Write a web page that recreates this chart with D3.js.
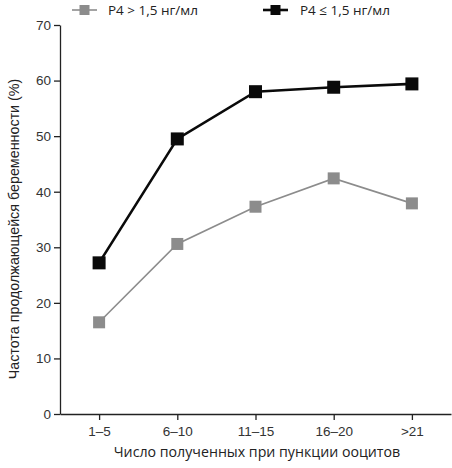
<!DOCTYPE html>
<html><head><meta charset="utf-8">
<script src="https://cdn.jsdelivr.net/npm/d3@7"></script>
<style>body{margin:0;background:#fff}svg{display:block}</style>
</head><body>
<script>
const categories = ["1–5", "6–10", "11–15", "16–20", ">21"];
const highP4 = [16.5, 30.6, 37.3, 42.4, 37.9];
const lowP4 = [27.2, 49.5, 58.0, 58.8, 59.4];
const yTicks = [0, 10, 20, 30, 40, 50, 60, 70];
const seriesNames = ["P4 > 1,5 нг/мл", "P4 ≤ 1,5 нг/мл"];

const W = 452, H = 468;
const svg = d3.select("body").append("svg").attr("width", W).attr("height", H);
const font = "'Liberation Sans', Arial, sans-serif";
const font2 = "'Open Sans', sans-serif";

const x = d3.scalePoint().domain(categories).range([60, 451]).padding(0.5);
const y = d3.scaleLinear().domain([0, 70]).range([414, 25]);

const axisColor = "#222";
// Y axis
const gy = svg.append("g").attr("transform", "translate(60,0)")
  .call(d3.axisLeft(y).tickValues(yTicks).tickSize(6).tickPadding(3).tickSizeOuter(0));
gy.select(".domain").attr("stroke", axisColor).attr("stroke-width", 1.3);
gy.selectAll(".tick line").attr("stroke", axisColor).attr("stroke-width", 1.3);
gy.selectAll(".tick text").attr("font-family", font).attr("font-size", 13.5).attr("fill", "#333");

// X axis
const gx = svg.append("g").attr("transform", "translate(0,414)")
  .call(d3.axisBottom(x).tickSize(6).tickPadding(6).tickSizeOuter(0));
gx.select(".domain").attr("stroke", axisColor).attr("stroke-width", 1.3);
gx.selectAll(".tick line").attr("stroke", axisColor).attr("stroke-width", 1.3);
gx.selectAll(".tick text").attr("font-family", font).attr("font-size", 13.5).attr("fill", "#333");

// Axis titles
svg.append("text").attr("x", 257).attr("y", 457).attr("text-anchor", "middle")
  .attr("font-family", font2).attr("font-size", 14.2).attr("fill", "#222")
  .text("Число полученных при пункции ооцитов");
svg.append("text").attr("transform", "translate(19,229) rotate(-90)").attr("text-anchor", "middle")
  .attr("font-family", font).attr("font-size", 14.3).attr("fill", "#222")
  .text("Частота продолжающейся беременности (%)");

const line = d3.line().x((d, i) => x(categories[i])).y(d => y(d));
const series = [
  {vals: highP4, color: "#8c8c8c", lw: 1.6, ms: 12},
  {vals: lowP4, color: "#0a0a0a", lw: 2.6, ms: 13}
];
series.forEach(s => {
  svg.append("path").datum(s.vals).attr("d", line).attr("fill", "none")
    .attr("stroke", s.color).attr("stroke-width", s.lw);
  svg.selectAll(null).data(s.vals).enter().append("rect")
    .attr("x", (d, i) => x(categories[i]) - s.ms / 2)
    .attr("y", d => y(d) - s.ms / 2)
    .attr("width", s.ms).attr("height", s.ms)
    .attr("fill", s.color);
});

// Legend
const legendPos = [{lx: 72, tx: 108}, {lx: 263, tx: 300}];
seriesNames.forEach((name, i) => {
  const s = series[i], p = legendPos[i], ly = 10;
  svg.append("line").attr("x1", p.lx).attr("x2", p.lx + 25).attr("y1", ly).attr("y2", ly)
    .attr("stroke", s.color).attr("stroke-width", s.lw);
  svg.append("rect").attr("x", p.lx + 12.5 - 5).attr("y", ly - 5).attr("width", 10).attr("height", 10)
    .attr("fill", s.color);
  svg.append("text").attr("x", p.tx).attr("y", ly + 5).attr("font-family", font2)
    .attr("font-size", 13.5).attr("fill", "#222").text(name);
});
</script>
</body></html>
